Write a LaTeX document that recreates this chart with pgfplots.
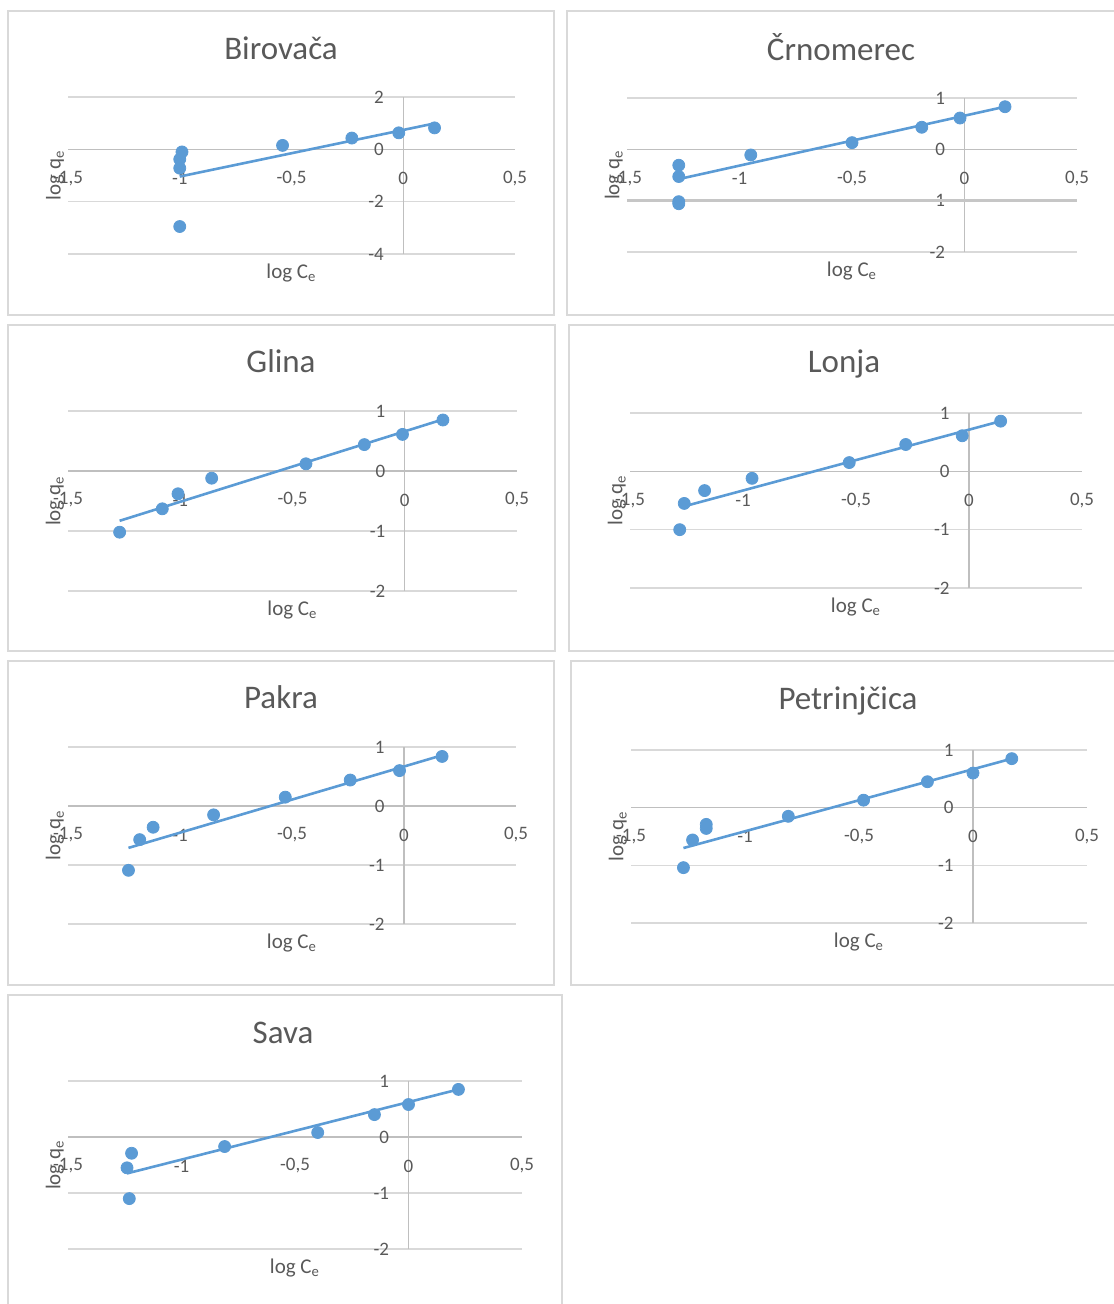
\documentclass[border=0pt]{standalone}
\usepackage{fontspec}
\setmainfont{Carlito}
\usepackage{pgfplots}
\pgfplotsset{compat=1.18}

\definecolor{exblue}{HTML}{5B9BD5}
\definecolor{txtgray}{HTML}{595959}
\definecolor{gridgray}{HTML}{D9D9D9}
\definecolor{axgray}{HTML}{BFBFBF}

% one Excel-like panel: axes crossing at the origin, horizontal grid only
\pgfplotsset{
  panel/.style={
    scale only axis, anchor=north west, clip=false,
    xmin=-1.5, xmax=0.5,
    axis lines=middle,
    axis line style={draw=axgray, line width=0.6pt, -},
    hide obscured x ticks=false, hide obscured y ticks=false,
    xtick={-1.5,-1,-0.5,0,0.5},
    major tick length=0pt,
    ymajorgrids, grid style={draw=gridgray, line width=0.6pt},
    /pgf/number format/use comma,
    /pgf/number format/fixed,
    /pgf/number format/assume math mode=true,
    tick label style={font=\fontsize{9.5}{11}\selectfont, text=txtgray, inner sep=0pt},
    x tick label style={anchor=center, yshift=-14.5pt},
    y tick label style={anchor=east, xshift=-9.5pt},
    xlabel={log C\textsubscript{e}}, ylabel={log q\textsubscript{e}},
    label style={font=\fontsize{10.5}{12}\selectfont, text=txtgray},
    xlabel style={at={(axis description cs:0.5,0)}, anchor=center, yshift=-9.5pt},
    ylabel style={at={(axis description cs:-0.029,0.5)}, anchor=center, rotate=90},
  },
  pts/.style={only marks, mark=*, mark size=3pt, mark options={draw=exblue, fill=exblue}},
  trend/.style={exblue, line width=1.3pt, no marks},
}

\begin{document}
\begin{tikzpicture}[x=0.5pt, y=-0.5pt]
\useasboundingbox (0,0) rectangle (1113,1304);

% panel frames
\draw[gridgray, line width=0.6pt] (8,11) rectangle (554,315);
\draw[gridgray, line width=0.6pt] (567,11) rectangle (1125,315);
\draw[gridgray, line width=0.6pt] (8,325) rectangle (555,651);
\draw[gridgray, line width=0.6pt] (569,325) rectangle (1125,651);
\draw[gridgray, line width=0.6pt] (8,661) rectangle (554,985);
\draw[gridgray, line width=0.6pt] (571,661) rectangle (1125,985);
\draw[gridgray, line width=0.6pt] (8,995) rectangle (562,1315);

% titles
\begin{scope}[every node/.style={anchor=base, text=txtgray, font=\fontsize{16.5}{19}\selectfont}]
\node at (281,60) {Birovača};
\node at (841,61) {Črnomerec};
\node at (281,373) {Glina};
\node at (844,373) {Lonja};
\node at (281,708) {Pakra};
\node at (848,709) {Petrinjčica};
\node at (283,1043) {Sava};
\end{scope}

% Birovaca
\begin{axis}[panel, at={(34pt,-48.5pt)}, width=223.5pt, height=78.5pt,
  ymin=-4, ymax=2, ytick={-4,-2,0,2}]
\addplot[pts] coordinates {
  (-0.99,-0.10) (-1.00,-0.38) (-1.00,-0.72) (-1.00,-2.95)
  (-0.54,0.15) (-0.23,0.43) (-0.02,0.63) (0.14,0.82)
};
\addplot[trend] coordinates {(-1.00,-1.04) (0.14,0.99)};
\end{axis}

% Crnomerec
\begin{axis}[panel, at={(313.5pt,-49pt)}, width=225pt, height=77pt,
  ymin=-2, ymax=1, ytick={-2,-1,0,1}]
\draw[gray!45, line width=1.2pt] (axis cs:-1.5,-1) -- (axis cs:0.5,-1);
\addplot[pts] coordinates {
  (-1.27,-0.31) (-1.27,-0.53) (-1.27,-1.02) (-1.27,-1.06)
  (-0.95,-0.11) (-0.50,0.13) (-0.19,0.43) (-0.02,0.61) (0.18,0.83)
};
\addplot[trend] coordinates {(-1.27,-0.58) (0.18,0.83)};
\end{axis}

% Glina
\begin{axis}[panel, at={(34pt,-205.5pt)}, width=224.5pt, height=90pt,
  ymin=-2, ymax=1, ytick={-2,-1,0,1}]
\addplot[pts] coordinates {
  (-1.27,-1.02) (-1.08,-0.63) (-1.01,-0.38) (-0.86,-0.12)
  (-0.44,0.12) (-0.18,0.44) (-0.01,0.61) (0.17,0.85)
};
\addplot[trend] coordinates {(-1.27,-0.83) (0.17,0.86)};
\end{axis}

% Lonja
\begin{axis}[panel, at={(315pt,-206.5pt)}, width=226pt, height=87.5pt,
  ymin=-2, ymax=1, ytick={-2,-1,0,1}]
\addplot[pts] coordinates {
  (-1.28,-1.00) (-1.26,-0.55) (-1.17,-0.33) (-0.96,-0.12)
  (-0.53,0.15) (-0.28,0.46) (-0.03,0.61) (0.14,0.86)
};
\addplot[trend] coordinates {(-1.27,-0.61) (0.14,0.86)};
\end{axis}

% Pakra
\begin{axis}[panel, at={(34pt,-373.5pt)}, width=224pt, height=88.5pt,
  ymin=-2, ymax=1, ytick={-2,-1,0,1}]
\addplot[pts] coordinates {
  (-1.23,-1.09) (-1.18,-0.57) (-1.12,-0.36) (-0.85,-0.15)
  (-0.53,0.15) (-0.24,0.44) (-0.02,0.60) (0.17,0.84)
};
\addplot[trend] coordinates {(-1.23,-0.71) (0.17,0.86)};
\end{axis}

% Petrinjcica
\begin{axis}[panel, at={(315.5pt,-375pt)}, width=228pt, height=86.5pt,
  ymin=-2, ymax=1, ytick={-2,-1,0,1}]
\addplot[pts] coordinates {
  (-1.27,-1.04) (-1.23,-0.56) (-1.17,-0.29) (-1.17,-0.36) (-0.81,-0.15)
  (-0.48,0.13) (-0.20,0.45) (0.00,0.60) (0.17,0.85)
};
\addplot[trend] coordinates {(-1.27,-0.70) (0.17,0.85)};
\end{axis}

% Sava
\begin{axis}[panel, at={(34pt,-540.5pt)}, width=227pt, height=84pt,
  ymin=-2, ymax=1, ytick={-2,-1,0,1}]
\addplot[pts] coordinates {
  (-1.22,-0.29) (-1.24,-0.55) (-1.23,-1.10) (-0.81,-0.17)
  (-0.40,0.08) (-0.15,0.40) (0.00,0.58) (0.22,0.85)
};
\addplot[trend] coordinates {(-1.24,-0.65) (0.22,0.85)};
\end{axis}

\end{tikzpicture}
\end{document}
